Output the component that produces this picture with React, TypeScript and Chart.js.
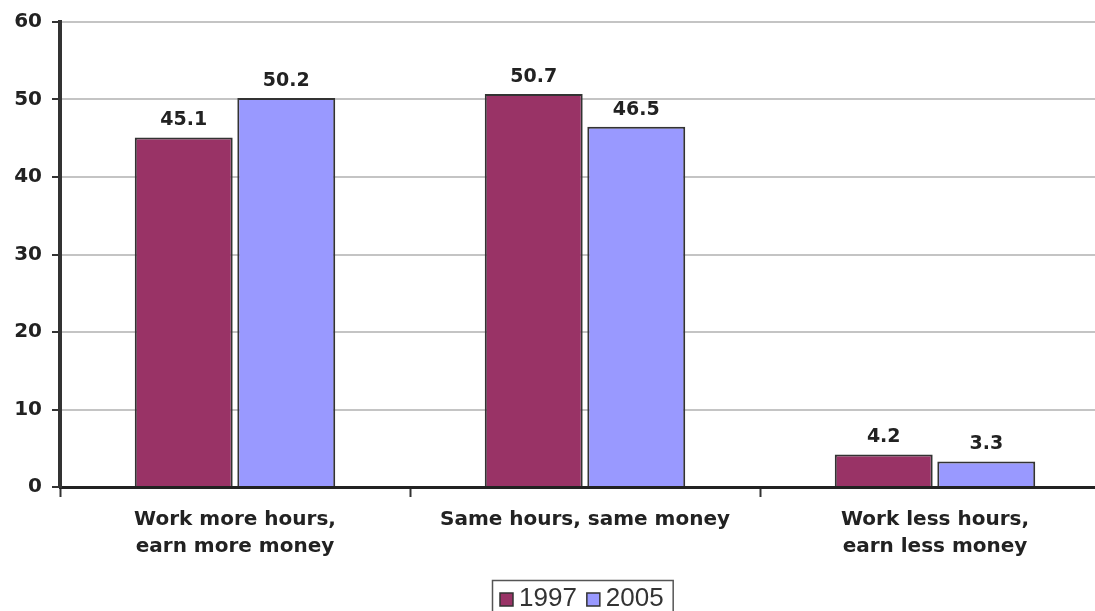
import React, { useEffect, useRef } from "react";
import { Chart, registerables } from "chart.js";

Chart.register(...registerables);

// Survey answers, percent of respondents
const categories: (string | string[])[] = [
  ["Work more hours,", "earn more money"],
  "Same hours, same money",
  ["Work less hours,", "earn less money"],
];
const seriesNames = ["1997", "2005"];
const values1997 = [45.1, 50.7, 4.2];
const values2005 = [50.2, 46.5, 3.3];
const seriesColors = ["#993366", "#9999ff"];
const yMin = 0;
const yMax = 60;
const yStep = 10;

const CANVAS_W = 1120;
const CANVAS_H = 625;
const TEXT = "#222222";
const BOLD_FONT = { family: "'DejaVu Sans', Verdana, sans-serif", size: 20, weight: "bold" as const };

// Writes each bar's value above it
const valueLabels = {
  id: "valueLabels",
  afterDatasetsDraw(chart: any) {
    const ctx = chart.ctx;
    ctx.save();
    ctx.font = "bold 19px 'DejaVu Sans', Verdana, sans-serif";
    ctx.fillStyle = TEXT;
    ctx.textAlign = "center";
    ctx.textBaseline = "middle";
    chart.data.datasets.forEach((ds: any, i: number) => {
      const meta = chart.getDatasetMeta(i);
      meta.data.forEach((bar: any, j: number) => {
        ctx.fillText(Number(ds.data[j]).toFixed(1), bar.x, bar.y - 17);
      });
    });
    ctx.restore();
  },
};

// Boxed legend centred under the plot
const boxedLegend = {
  id: "boxedLegend",
  afterDraw(chart: any) {
    const ctx = chart.ctx;
    const area = chart.chartArea;
    ctx.save();
    ctx.font = "26px 'Liberation Sans', Arial, sans-serif";
    const padL = 8;
    const sq = 13;
    const gap = 6;
    const itemGap = 10;
    const padR = 9;
    const items = chart.data.datasets.map((ds: any) => ({
      label: ds.label,
      color: ds.backgroundColor,
      w: ctx.measureText(ds.label).width,
    }));
    let total = padL + padR;
    items.forEach((it: any, i: number) => {
      total += sq + gap + it.w + (i < items.length - 1 ? itemGap : 0);
    });
    const top = area.bottom + 93;
    const left = Math.round((area.left + area.right) / 2 - 3 - total / 2);
    const boxH = 36;
    ctx.fillStyle = "#ffffff";
    ctx.fillRect(left, top, total, boxH);
    ctx.strokeStyle = "#555555";
    ctx.lineWidth = 1.5;
    ctx.strokeRect(left + 0.5, top + 0.5, total, boxH);
    let x = left + padL;
    const baseline = top + 26;
    items.forEach((it: any) => {
      ctx.fillStyle = it.color;
      ctx.fillRect(x, baseline - sq, sq, sq);
      ctx.strokeStyle = "#333333";
      ctx.lineWidth = 1.5;
      ctx.strokeRect(x, baseline - sq, sq, sq);
      x += sq + gap;
      ctx.fillStyle = "#333333";
      ctx.textAlign = "left";
      ctx.textBaseline = "alphabetic";
      ctx.fillText(it.label, x, baseline);
      x += it.w + itemGap;
    });
    ctx.restore();
  },
};

export default function App() {
  const canvasRef = useRef<HTMLCanvasElement | null>(null);

  useEffect(() => {
    if (!canvasRef.current) return;
    const allSeries = [values1997, values2005];
    const chart = new Chart(canvasRef.current, {
      type: "bar",
      data: {
        labels: categories,
        datasets: seriesNames.map((name, i) => ({
          label: name,
          data: allSeries[i],
          backgroundColor: seriesColors[i],
          borderColor: "#333333",
          borderWidth: 2,
          categoryPercentage: 0.586,
          barPercentage: 0.955,
        })),
      },
      options: {
        animation: false,
        responsive: false,
        devicePixelRatio: 1,
        layout: { padding: { top: 22, right: 10, bottom: 48, left: 0 } },
        plugins: {
          legend: { display: false },
          tooltip: { enabled: false },
        },
        scales: {
          x: {
            grid: {
              display: true,
              offset: true,
              drawOnChartArea: false,
              drawTicks: true,
              tickLength: 10,
              tickColor: "#333333",
              tickWidth: 2,
            },
            border: { display: true, color: "#222222", width: 3 },
            ticks: {
              font: { ...BOLD_FONT, lineHeight: "27px" },
              color: TEXT,
              padding: 9,
              maxRotation: 0,
              autoSkip: false,
            },
            afterFit: (scale: any) => {
              scale.height = 90;
            },
          },
          y: {
            min: yMin,
            max: yMax,
            ticks: {
              stepSize: yStep,
              font: BOLD_FONT,
              color: TEXT,
              padding: 10,
            },
            grid: {
              color: (c: any) => (c.tick && c.tick.value === 0 ? "rgba(0,0,0,0)" : "#c4c4c4"),
              lineWidth: 2,
              tickLength: 8,
              tickColor: "#333333",
              tickWidth: 2,
            },
            border: { display: true, color: "#333333", width: 4 },
            afterFit: (scale: any) => {
              scale.width = 60;
            },
          },
        },
      },
      plugins: [valueLabels, boxedLegend],
    });
    return () => chart.destroy();
  }, []);

  return (
    <div
      style={{
        position: "fixed",
        left: 0,
        top: 0,
        width: 1095,
        height: 611,
        overflow: "hidden",
        background: "#ffffff",
      }}
    >
      <canvas
        ref={canvasRef}
        width={CANVAS_W}
        height={CANVAS_H}
        style={{ width: CANVAS_W, height: CANVAS_H, display: "block" }}
      />
    </div>
  );
}
